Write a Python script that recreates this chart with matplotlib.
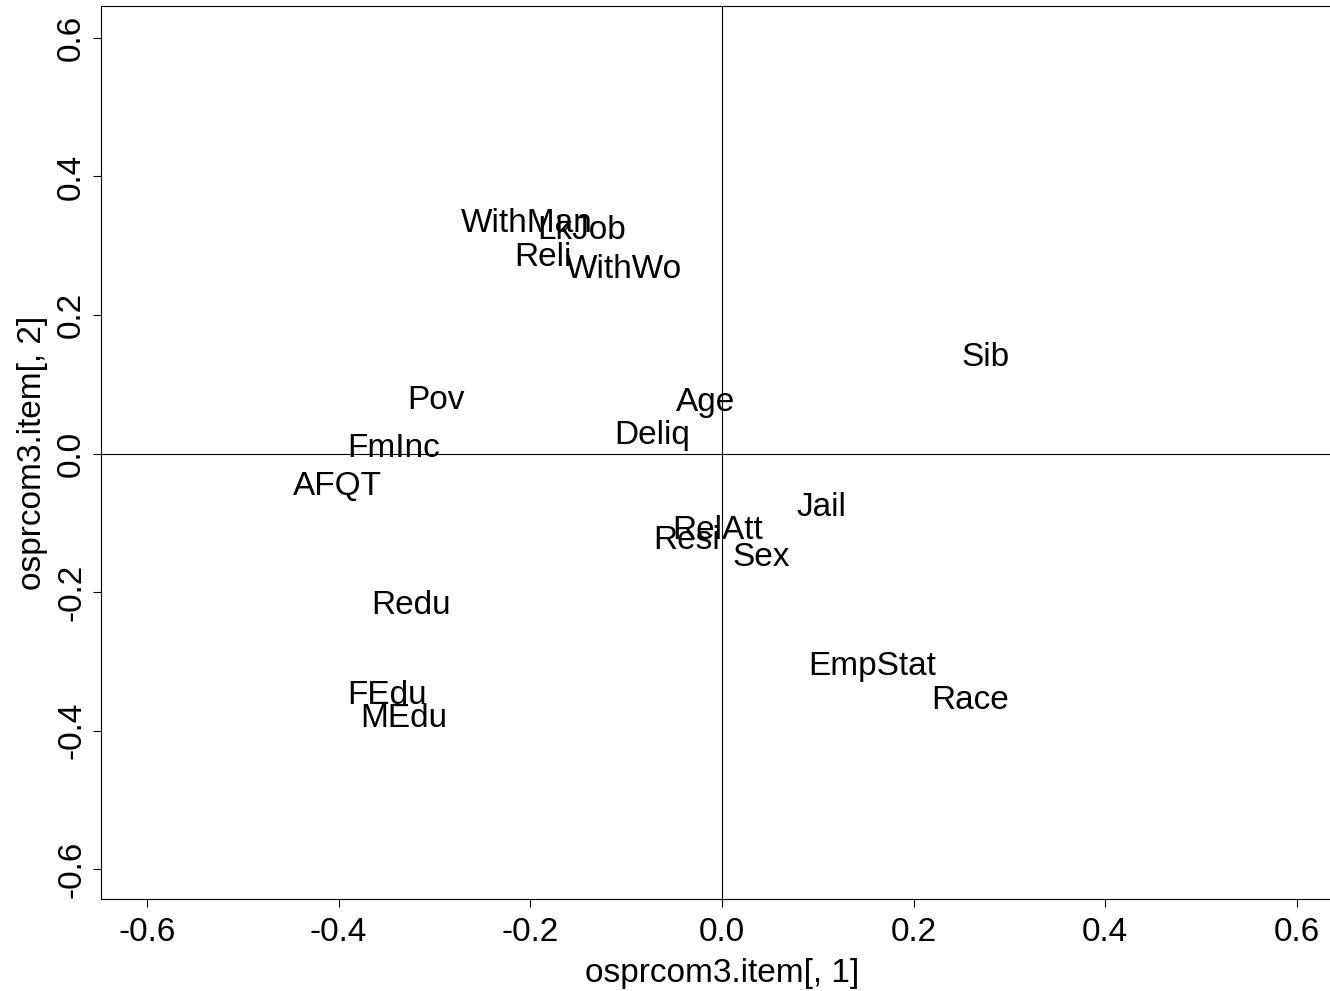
import matplotlib.pyplot as plt

# item loadings on the first two components
items = ["WithMan", "LkJob", "Reli", "WithWo", "Sib", "Pov", "Age", "Deliq",
         "FmInc", "AFQT", "Jail", "RelAtt", "Resi", "Sex", "Redu", "EmpStat",
         "Race", "FEdu", "MEdu"]
comp1 = [-0.2035, -0.146, -0.187, -0.102, 0.2745, -0.298, -0.017, -0.0725,
         -0.343, -0.401, 0.104, -0.005, -0.037, 0.041, -0.324, 0.1565,
         0.259, -0.349, -0.332]
comp2 = [0.337, 0.327, 0.288, 0.271, 0.143, 0.082, 0.079, 0.031,
         0.012, -0.042, -0.073, -0.106, -0.121, -0.145, -0.214, -0.303,
         -0.351, -0.344, -0.377]

plt.rcParams['font.family'] = ['Liberation Sans', 'DejaVu Sans']

fig = plt.figure(figsize=(13.3, 9.91), dpi=100)
ax = fig.add_axes([101/1330, 92/991, 1242/1330, 893/991])

for name, x, y in zip(items, comp1, comp2):
    ax.text(x, y, name, ha='center', va='center_baseline', fontsize=24)

ax.axhline(0, color='black', lw=0.8)
ax.axvline(0, color='black', lw=0.8)

ax.set_xlim(-0.648, 0.648)
ax.set_ylim(-0.643, 0.646)
ticks = [-0.6, -0.4, -0.2, 0.0, 0.2, 0.4, 0.6]
ax.set_xticks(ticks)
ax.set_yticks(ticks)
ax.set_xticklabels([f"{t:.1f}" for t in ticks])
ax.set_yticklabels([f"{t:.1f}" for t in ticks], rotation=90, va='center')
ax.tick_params(labelsize=24, length=6, width=0.8, pad=7)
ax.tick_params(axis='y', pad=4)
for s in ax.spines.values():
    s.set_linewidth(0.8)
ax.spines['right'].set_visible(False)

ax.set_xlabel("osprcom3.item[, 1]", fontsize=24, labelpad=7)
ax.set_ylabel("osprcom3.item[, 2]", fontsize=24, labelpad=6)

fig.savefig("out.png", dpi=100)
